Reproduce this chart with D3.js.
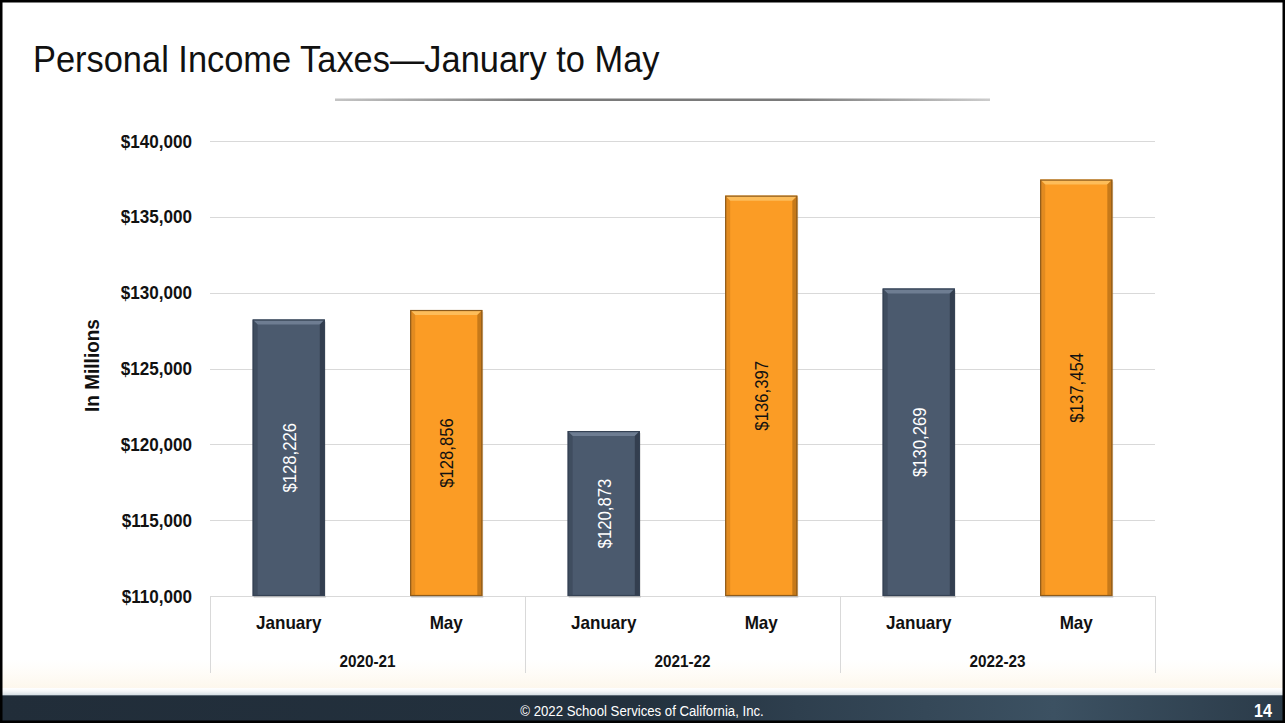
<!DOCTYPE html>
<html>
<head>
<meta charset="utf-8">
<script src="https://cdn.jsdelivr.net/npm/d3@7/dist/d3.min.js"></script>
<style>
  html, body { margin: 0; padding: 0; background: #fff; }
  svg { display: block; }
  text { font-family: "Liberation Sans Narrow", "Arial Narrow", "Liberation Sans", Arial, sans-serif; }
</style>
</head>
<body>
<svg id="chart" width="1285" height="723"></svg>
<script>
// Fiscal years and the two estimate months within each
const years = ["2020-21", "2021-22", "2022-23"];
const months = ["January", "May"];
// Personal income tax estimates, in millions of dollars
const januaryValues = [128226, 120873, 130269];
const mayValues = [128856, 136397, 137454];
const yTicks = [110000, 115000, 120000, 125000, 130000, 135000, 140000];

const titleText = "Personal Income Taxes\u2014January to May";
const footerText = "\u00A9 2022 School Services of California, Inc.";
const pageNumber = "14";

const rows = [];
years.forEach((yr, i) => {
  rows.push({ year: yr, month: "January", value: januaryValues[i] });
  rows.push({ year: yr, month: "May", value: mayValues[i] });
});

const svg = d3.select("#chart");
const W = 1285, H = 723;
const plot = { left: 210, right: 1155, top: 141, bottom: 596 };
const SQ = 0.9; // horizontal squeeze for a narrow face

// Place a horizontally condensed text at (x, y), optionally rotated
function narrowText(parent, x, y, str, opts) {
  const o = Object.assign({ size: 16, weight: "normal", fill: "#111", anchor: "start", rotate: 0, sx: SQ }, opts);
  return parent.append("text")
    .attr("transform", `translate(${x},${y}) rotate(${o.rotate}) scale(${o.sx},1)`)
    .attr("text-anchor", o.anchor)
    .attr("font-size", o.size)
    .attr("font-weight", o.weight)
    .attr("fill", o.fill)
    .text(str);
}

const defs = svg.append("defs");

// Title underline: fades out at both ends
const ul = defs.append("linearGradient").attr("id", "underline");
ul.append("stop").attr("offset", "0%").attr("stop-color", "#c4c4c4");
ul.append("stop").attr("offset", "30%").attr("stop-color", "#7a7a7a");
ul.append("stop").attr("offset", "70%").attr("stop-color", "#7a7a7a");
ul.append("stop").attr("offset", "100%").attr("stop-color", "#cccccc");

// Footer band gradient
const fg = defs.append("linearGradient").attr("id", "footer");
fg.append("stop").attr("offset", "0%").attr("stop-color", "#212d39");
fg.append("stop").attr("offset", "50%").attr("stop-color", "#23313e");
fg.append("stop").attr("offset", "62%").attr("stop-color", "#2e3f4e");
fg.append("stop").attr("offset", "82%").attr("stop-color", "#3c5162");
fg.append("stop").attr("offset", "100%").attr("stop-color", "#2b3b49");

const fgTop = defs.append("linearGradient").attr("id", "footerTop").attr("x1", 0).attr("x2", 0).attr("y1", 0).attr("y2", 1);
fgTop.append("stop").attr("offset", "0%").attr("stop-color", "#ffffff").attr("stop-opacity", 0);
fgTop.append("stop").attr("offset", "100%").attr("stop-color", "#d5dde2").attr("stop-opacity", 1);

// Pale haze band near the bottom of the slide
const haze = defs.append("linearGradient").attr("id", "haze").attr("x1", 0).attr("x2", 0).attr("y1", 0).attr("y2", 1);
haze.append("stop").attr("offset", "0%").attr("stop-color", "#fffaf0").attr("stop-opacity", 0);
haze.append("stop").attr("offset", "100%").attr("stop-color", "#fdf7ec").attr("stop-opacity", 1);

svg.append("rect").attr("width", W).attr("height", H).attr("fill", "#fff");
svg.append("rect").attr("x", 0).attr("y", 660).attr("width", W).attr("height", 28).attr("fill", "url(#haze)");

// Title
narrowText(svg, 33, 72, titleText, { size: 37, sx: 0.93, fill: "#111" });

svg.append("rect")
  .attr("x", 335).attr("y", 98.5).attr("width", 655).attr("height", 2.5)
  .attr("fill", "url(#underline)");

// Scales
const x0 = d3.scaleBand().domain(years).range([plot.left, plot.right]).padding(0);
const x1 = d3.scaleBand().domain(months).range([0, x0.bandwidth()])
  .paddingInner(0.542).paddingOuter(0.271);
const y = d3.scaleLinear().domain([110000, 140000]).range([plot.bottom, plot.top]);

// Gridlines
svg.append("g")
  .selectAll("line")
  .data(yTicks)
  .join("line")
  .attr("x1", plot.left).attr("x2", plot.right)
  .attr("y1", d => Math.round(y(d)) + 0.5).attr("y2", d => Math.round(y(d)) + 0.5)
  .attr("stroke", "#d9d9d9").attr("stroke-width", 1.2);

// Y axis labels
const fmt = d3.format("$,");
const yAxis = d3.axisLeft(y).tickValues(yTicks).tickFormat(fmt).tickSize(0).tickPadding(20);
const yg = svg.append("g").attr("transform", `translate(${plot.left},0)`).call(yAxis);
yg.select(".domain").remove();
yg.selectAll("text")
  .attr("font-family", "'Liberation Sans Narrow', 'Arial Narrow', 'Liberation Sans', sans-serif")
  .attr("font-size", 19).attr("font-weight", "bold").attr("fill", "#111")
  .attr("transform", `scale(${SQ},1)`);

narrowText(svg, 99, (plot.top + plot.bottom) / 2 - 3, "In Millions",
  { size: 20, weight: "bold", anchor: "middle", rotate: -90, sx: 0.95 });

// Category axis: frame lines and two-level labels
const catBottom = 673;
svg.append("line")
  .attr("x1", plot.left).attr("x2", plot.right)
  .attr("y1", plot.bottom + 0.5).attr("y2", plot.bottom + 0.5)
  .attr("stroke", "#d9d9d9").attr("stroke-width", 1.2);

const bounds = years.map(yr => x0(yr)).concat([plot.right]);
svg.append("g").selectAll("line")
  .data(bounds)
  .join("line")
  .attr("x1", d => d + 0.5).attr("x2", d => d + 0.5)
  .attr("y1", plot.bottom).attr("y2", catBottom)
  .attr("stroke", "#d9d9d9").attr("stroke-width", 1);

const catG = svg.append("g");
years.forEach(yr => months.forEach(m => {
  narrowText(catG, x0(yr) + x1(m) + x1.bandwidth() / 2, 629, m,
    { size: 18, weight: "bold", anchor: "middle", sx: 0.95 });
}));
years.forEach(yr => {
  narrowText(catG, x0(yr) + x0.bandwidth() / 2, 667, yr,
    { size: 17, weight: "bold", anchor: "middle", sx: 0.9 });
});

// Bars with a bevelled look
const style = {
  January: { fill: "#4b5a6e", light: "#6e7d92", dark: "#2b3646", edge: "#354254", label: "#ffffff" },
  May: { fill: "#fb9c25", light: "#fdbd5a", dark: "#b46d16", edge: "#8d5b1c", label: "#111111" }
};

const bars = svg.append("g").selectAll("g")
  .data(rows)
  .join("g");

bars.each(function (d) {
  const g = d3.select(this);
  const s = style[d.month];
  const bx = x0(d.year) + x1(d.month);
  const bw = x1.bandwidth();
  const by = y(d.value);
  const bh = plot.bottom - by;
  const b = 5;
  // soft shadow under the bar
  g.append("rect").attr("x", bx + 1).attr("y", by + 2).attr("width", bw).attr("height", bh)
    .attr("fill", "#000").attr("opacity", 0.12);
  g.append("rect").attr("x", bx).attr("y", by).attr("width", bw).attr("height", bh)
    .attr("fill", s.fill);
  // top bevel
  g.append("path")
    .attr("d", `M${bx},${by}L${bx + bw},${by}L${bx + bw - b},${by + b}L${bx + b},${by + b}Z`)
    .attr("fill", s.light);
  // right bevel
  g.append("path")
    .attr("d", `M${bx + bw},${by}L${bx + bw},${plot.bottom}L${bx + bw - b},${plot.bottom}L${bx + bw - b},${by + b}Z`)
    .attr("fill", s.dark).attr("opacity", 0.75);
  // left bevel
  g.append("path")
    .attr("d", `M${bx},${by}L${bx + b},${by + b}L${bx + b},${plot.bottom}L${bx},${plot.bottom}Z`)
    .attr("fill", s.dark).attr("opacity", 0.35);
  g.append("rect").attr("x", bx + 0.5).attr("y", by + 0.5).attr("width", bw - 1).attr("height", bh - 1)
    .attr("fill", "none").attr("stroke", s.edge).attr("stroke-width", 1.2);
  // value label, rotated, centred in the bar
  narrowText(g, bx + bw / 2 + 7, by + bh / 2, fmt(d.value),
    { size: 19, weight: "normal", fill: s.label, anchor: "middle", rotate: -90, sx: 0.88 });
});

// Footer band
svg.append("rect").attr("x", 0).attr("y", 687).attr("width", W).attr("height", 8).attr("fill", "url(#footerTop)");
svg.append("rect").attr("x", 0).attr("y", 695).attr("width", W).attr("height", H - 695).attr("fill", "url(#footer)");
svg.append("line").attr("x1", 0).attr("x2", W).attr("y1", 695.5).attr("y2", 695.5)
  .attr("stroke", "#5b6874").attr("stroke-width", 1);
narrowText(svg, 642, 716, footerText, { size: 15, fill: "#ffffff", anchor: "middle", sx: 0.88 });
narrowText(svg, 1263, 717, pageNumber, { size: 19, weight: "bold", fill: "#ffffff", anchor: "middle", sx: 0.85 });

// Slide frame
svg.append("rect").attr("x", 1).attr("y", 1).attr("width", W - 2).attr("height", H - 2)
  .attr("fill", "none").attr("stroke", "#000").attr("stroke-width", 3);
</script>
</body>
</html>
